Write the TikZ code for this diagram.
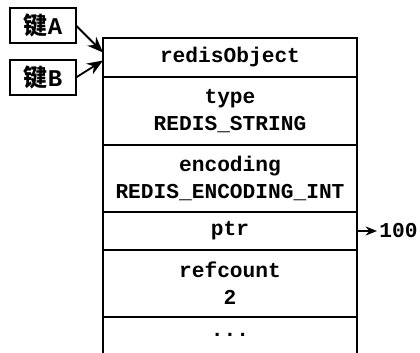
\documentclass[tikz,border=0pt]{standalone}
\usepackage{fontspec}
\setmonofont{Liberation Mono}
\newfontfamily\cjk{Noto Sans CJK SC}
\usetikzlibrary{arrows.meta,positioning}

\begin{document}
\begin{tikzpicture}[x=0.5pt,y=-0.5pt,
    node distance=0pt,
    field/.style={draw,line width=1pt,outer sep=0pt,inner sep=0pt,align=center,
      font=\ttfamily\bfseries\fontsize{10.6}{13.5}\selectfont,minimum width=127pt},
    keybox/.style={draw,line width=1pt,outer sep=0pt,inner sep=0pt,
      font=\ttfamily\bfseries\fontsize{12}{14}\selectfont,
      minimum width=33pt,minimum height=17.5pt},
    arrow/.style={-{Stealth[length=2.8mm,width=2.2mm]},line width=0.9pt}]
    \useasboundingbox (0,0) rectangle (420,353);
    \node[field,minimum height=19.5pt] (head) at (230,57.5) {redisObject};
    \node[field,minimum height=34pt,below=of head] (type) {type\\REDIS\_STRING};
    \node[field,minimum height=33.5pt,below=of type] (enc) {encoding\\REDIS\_ENCODING\_INT};
    \node[field,minimum height=19pt,below=of enc] (ptr) {ptr};
    \node[field,minimum height=33.5pt,below=of ptr] (refc) {refcount\\2};
    \node[field,draw=none,minimum height=18pt,below=of refc] (rest) {...};
    \draw[line width=1pt] (rest.north west) -- (rest.south west);
    \draw[line width=1pt] (rest.north east) -- (rest.south east);
    \node[keybox] (keyA) at (43,25.5) {{\cjk\bfseries 键}A};
    \node[keybox] (keyB) at (43,77.5) {{\cjk\bfseries 键}B};
    \draw[arrow] (keyA.east) -- ([yshift=2.5pt]head.west);
    \draw[arrow] (keyB.east) -- ([yshift=-1.5pt]head.west);
    \node[font=\ttfamily\bfseries\fontsize{10.6}{13.5}\selectfont,inner sep=1pt,
      right=10pt of ptr] (val) {100};
    \draw[arrow,-{Stealth[length=2mm,width=1.6mm]}] (ptr.east) -- (val.west);
  \end{tikzpicture}
\end{document}
